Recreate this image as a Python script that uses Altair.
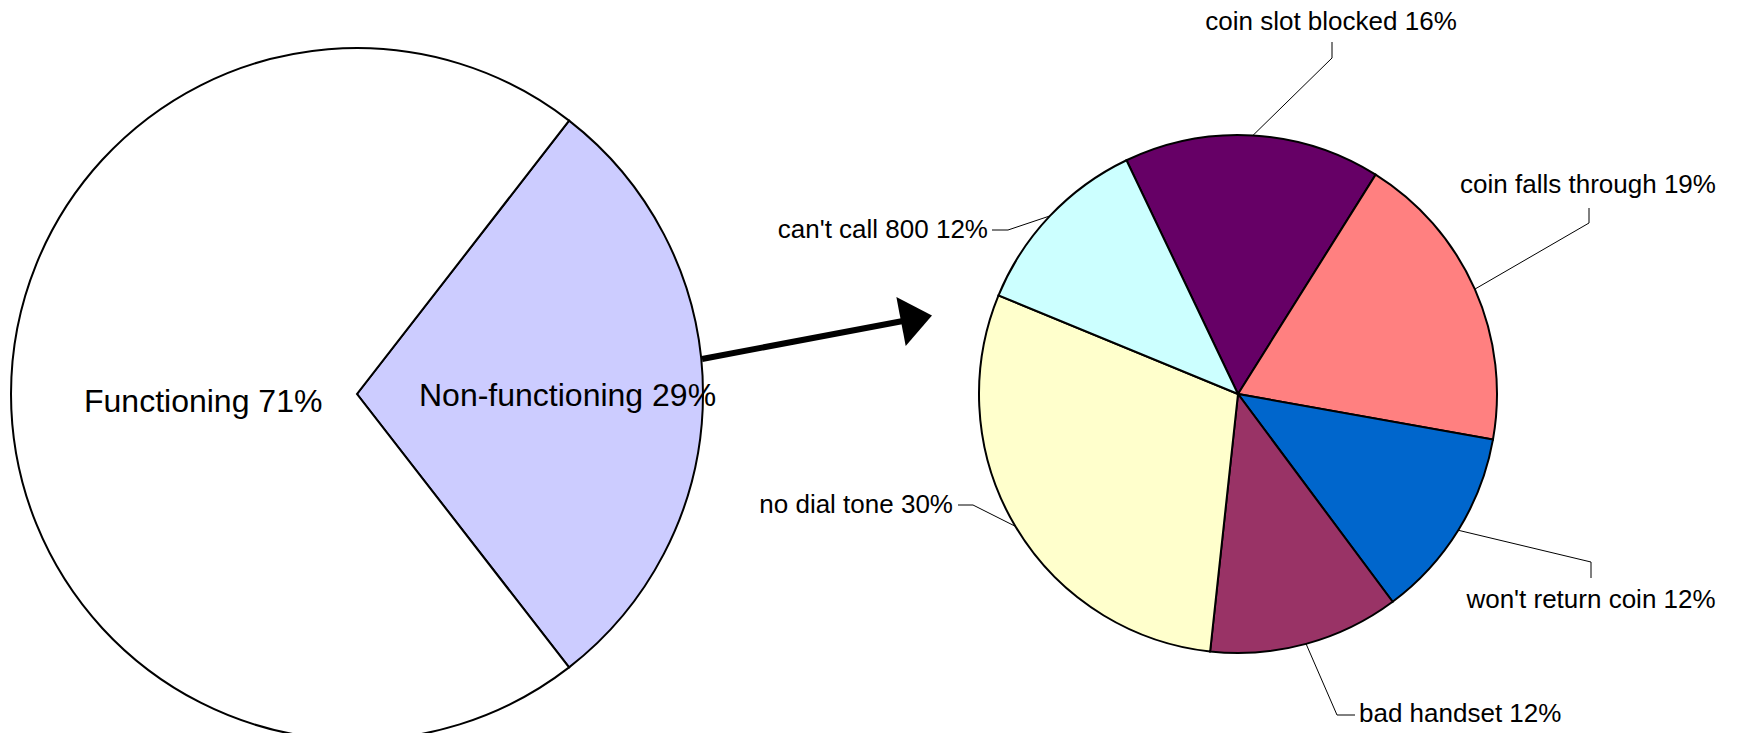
import math
import altair as alt
import pandas as pd

# ---------------- data ----------------
overall_labels = ["Non-functioning", "Functioning"]
overall_values = [29, 71]

fault_labels = ["coin slot blocked", "coin falls through", "won't return coin",
                "bad handset", "no dial tone", "can't call 800"]
# slice shares (labels show them rounded)
fault_values = [16.0, 18.9, 12.0, 11.9, 29.5, 11.7]

# ---------------- styles ----------------
overall_colors = ["#CCCCFF", "#FFFFFF"]
fault_colors = ["#660066", "#FF8080", "#0066CC", "#993366", "#FFFFCC", "#CCFFFF"]
FONT = "Liberation Sans"

# ---------------- layout (page pixel coordinates) ----------------
W, H = 1726, 725
M = 8
LEFT_C, LEFT_R = (357, 394), 346
RIGHT_C, RIGHT_R = (1238, 394), 259
LEFT_START = math.radians(37.8)
RIGHT_START = math.radians(360 - 25.5)

overall_label_pos = {
    "Functioning": (84, 412),
    "Non-functioning": (419, 406),
}
# anchor x, baseline y, align, elbow point, end point near text
fault_label_pos = {
    "coin slot blocked": (1331, 30, "center", (1332, 58), (1332, 42)),
    "coin falls through": (1588, 193, "center", (1589, 223), (1589, 208)),
    "won't return coin": (1591, 608, "center", (1591, 562), (1591, 578)),
    "bad handset": (1359, 722, "left", (1337, 715), (1355, 715)),
    "no dial tone": (953, 513, "right", (973, 505), (958, 505)),
    "can't call 800": (988, 238, "right", (1008, 230), (992, 230)),
}
ARROW_START = (702, 359)
ARROW_BASE = (903, 321)
ARROW_HEAD = (916.5, 318.5)
ARROW_ANGLE = 349.2

xs = alt.Scale(domain=[M, M + W], range=[0, W], nice=False, zero=False)
ys = alt.Scale(domain=[M, M + H], range=[0, H], nice=False, zero=False)

# ---------------- pies ----------------
left_df = pd.DataFrame({"label": overall_labels, "value": overall_values,
                        "idx": list(range(len(overall_labels)))})
right_df = pd.DataFrame({"label": fault_labels, "value": fault_values,
                         "idx": list(range(len(fault_labels)))})

left_arc = alt.Chart(left_df).mark_arc(
    radius=LEFT_R, stroke="black", strokeWidth=2,
    x=LEFT_C[0] - M, y=LEFT_C[1] - M,
).encode(
    theta=alt.Theta("value:Q", stack=True,
                    scale=alt.Scale(range=[LEFT_START, LEFT_START + 2 * math.pi])),
    color=alt.Color("label:N", scale=alt.Scale(domain=overall_labels, range=overall_colors),
                    legend=None),
    order=alt.Order("idx:Q"),
)

right_arc = alt.Chart(right_df).mark_arc(
    radius=RIGHT_R, stroke="black", strokeWidth=2,
    x=RIGHT_C[0] - M, y=RIGHT_C[1] - M,
).encode(
    theta=alt.Theta("value:Q", stack=True,
                    scale=alt.Scale(range=[RIGHT_START, RIGHT_START + 2 * math.pi])),
    color=alt.Color("label:N", scale=alt.Scale(domain=fault_labels, range=fault_colors),
                    legend=None),
    order=alt.Order("idx:Q"),
)

# ---------------- labels ----------------
left_text_df = pd.DataFrame({
    "text": [f"{l} {round(v)}%" for l, v in zip(overall_labels, overall_values)],
    "x": [overall_label_pos[l][0] for l in overall_labels],
    "y": [overall_label_pos[l][1] for l in overall_labels],
})
left_text = alt.Chart(left_text_df).mark_text(
    align="left", baseline="alphabetic", font=FONT, fontSize=32, color="black"
).encode(x=alt.X("x:Q", scale=xs, axis=None), y=alt.Y("y:Q", scale=ys, axis=None), text="text:N")

fault_text_layers = []
for al in ["left", "center", "right"]:
    rows = [(f"{l} {round(v)}%", fault_label_pos[l][0], fault_label_pos[l][1])
            for l, v in zip(fault_labels, fault_values) if fault_label_pos[l][2] == al]
    if not rows:
        continue
    df = pd.DataFrame(rows, columns=["text", "x", "y"])
    fault_text_layers.append(
        alt.Chart(df).mark_text(
            align=al, baseline="alphabetic", font=FONT, fontSize=26, color="black"
        ).encode(x=alt.X("x:Q", scale=xs, axis=None), y=alt.Y("y:Q", scale=ys, axis=None),
                 text="text:N")
    )

# ---------------- leader lines (edge point from slice mid-angle) ----------------
total = sum(fault_values)
lead_rows = []
cum = 0
for l, v in zip(fault_labels, fault_values):
    a = RIGHT_START + 2 * math.pi * (cum + v / 2) / total
    cum += v
    ex = RIGHT_C[0] + RIGHT_R * math.sin(a)
    ey = RIGHT_C[1] - RIGHT_R * math.cos(a)
    _, _, _, elbow, end = fault_label_pos[l]
    lead_rows += [(l, 0, ex, ey), (l, 1, elbow[0], elbow[1]), (l, 2, end[0], end[1])]
lead_df = pd.DataFrame(lead_rows, columns=["label", "step", "x", "y"])
leaders = alt.Chart(lead_df).mark_line(color="black", strokeWidth=1).encode(
    x=alt.X("x:Q", scale=xs, axis=None), y=alt.Y("y:Q", scale=ys, axis=None),
    detail="label:N", order=alt.Order("step:Q"),
)

# ---------------- arrow ----------------
shaft_df = pd.DataFrame({"x": [ARROW_START[0], ARROW_BASE[0]], "y": [ARROW_START[1], ARROW_BASE[1]],
                         "step": [0, 1]})
shaft = alt.Chart(shaft_df).mark_line(color="black", strokeWidth=6, strokeCap="butt").encode(
    x=alt.X("x:Q", scale=xs, axis=None), y=alt.Y("y:Q", scale=ys, axis=None),
    order=alt.Order("step:Q"),
)
head_df = pd.DataFrame({"x": [ARROW_HEAD[0]], "y": [ARROW_HEAD[1]]})
head = alt.Chart(head_df).mark_point(
    shape="M-0.63,-1L0.63,0L-0.63,1Z", size=2500, angle=ARROW_ANGLE,
    filled=True, color="black", opacity=1, strokeWidth=0,
).encode(x=alt.X("x:Q", scale=xs, axis=None), y=alt.Y("y:Q", scale=ys, axis=None))

chart = alt.layer(
    left_arc, right_arc, leaders, shaft, head, left_text, *fault_text_layers
).resolve_scale(
    theta="independent", color="independent"
).properties(
    width=W, height=H, padding=0, autosize="none", background="white"
).configure_view(stroke=None)

chart.save("out.html", embed_options={"renderer": "svg", "actions": False})
